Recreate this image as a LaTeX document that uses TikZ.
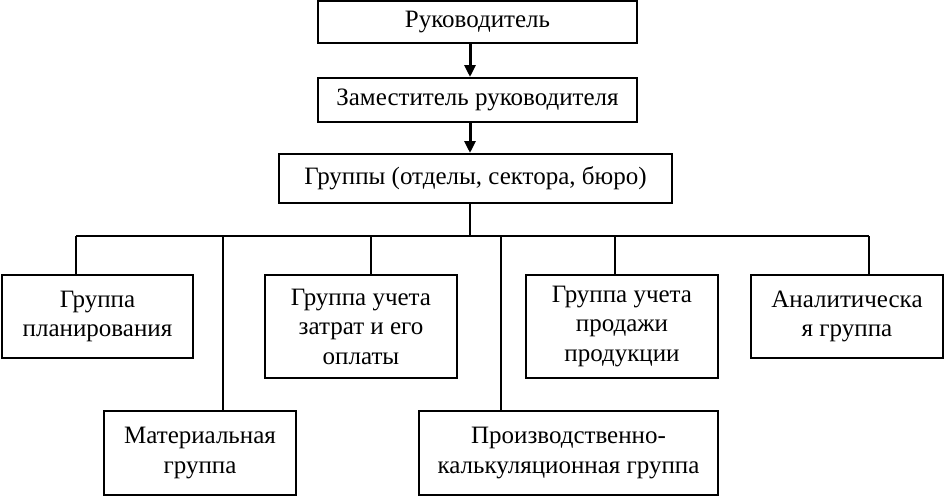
\documentclass[tikz,border=0pt]{standalone}
\usepackage{fontspec}
\setmainfont{Liberation Serif}
\usetikzlibrary{arrows.meta}
\begin{document}
\begin{tikzpicture}[x=1pt,y=-1pt,
  box/.style={draw,line width=2pt,inner sep=0pt,align=center,
    font=\fontsize{25}{29.5}\selectfont},
  conn/.style={line width=2pt},
  arr/.style={line width=3pt,-{Triangle[width=11pt,length=12pt]}}]
\useasboundingbox (0,0) rectangle (944,496);
\node[box,minimum width=319pt,minimum height=42pt] (r) at (477.5,22) {Руководитель};
\node[box,minimum width=319pt,minimum height=44pt] (z) at (477.5,100) {Заместитель руководителя};
\node[box,minimum width=393pt,minimum height=49pt] (g) at (475.5,178.5) {Группы (отделы, сектора, бюро)};
\node[box,minimum width=191pt,minimum height=83pt] (pl) at (97.5,316.5) {Группа\\планирования};
\node[box,minimum width=192pt,minimum height=103pt] (za) at (361,326.5) {Группа учета\\затрат и его\\оплаты};
\node[box,minimum width=192pt,minimum height=84pt] (ma) at (200,453) {Материальная\\группа};
\node[box,minimum width=299pt,minimum height=84pt] (pk) at (568.5,453) {Производственно-\\калькуляционная группа};
\node[box,minimum width=192pt,minimum height=103pt] (pp) at (622,326.5) {Группа учета\\продажи\\продукции};
\node[box,minimum width=192pt,minimum height=83pt] (an) at (847,316.5) {Аналитическа\\я группа};
\coordinate (bus) at (470,236);
\coordinate (d1) at (76,236);
\coordinate (d2) at (223,236);
\coordinate (d3) at (371,236);
\coordinate (d4) at (501,236);
\coordinate (d5) at (615,236);
\coordinate (d6) at (869,236);
\draw[arr] (r.south -| bus) -- (z.north -| bus);
\draw[arr] (z.south -| bus) -- (g.north -| bus);
\draw[conn] (g.south -| bus) -- (bus);
\draw[conn] (d1) -- (d6);
\draw[conn] (d1) -- (d1 |- pl.north);
\draw[conn] (d2) -- (d2 |- ma.north);
\draw[conn] (d3) -- (d3 |- za.north);
\draw[conn] (d4) -- (d4 |- pk.north);
\draw[conn] (d5) -- (d5 |- pp.north);
\draw[conn] (d6) -- (d6 |- an.north);
\end{tikzpicture}
\end{document}
